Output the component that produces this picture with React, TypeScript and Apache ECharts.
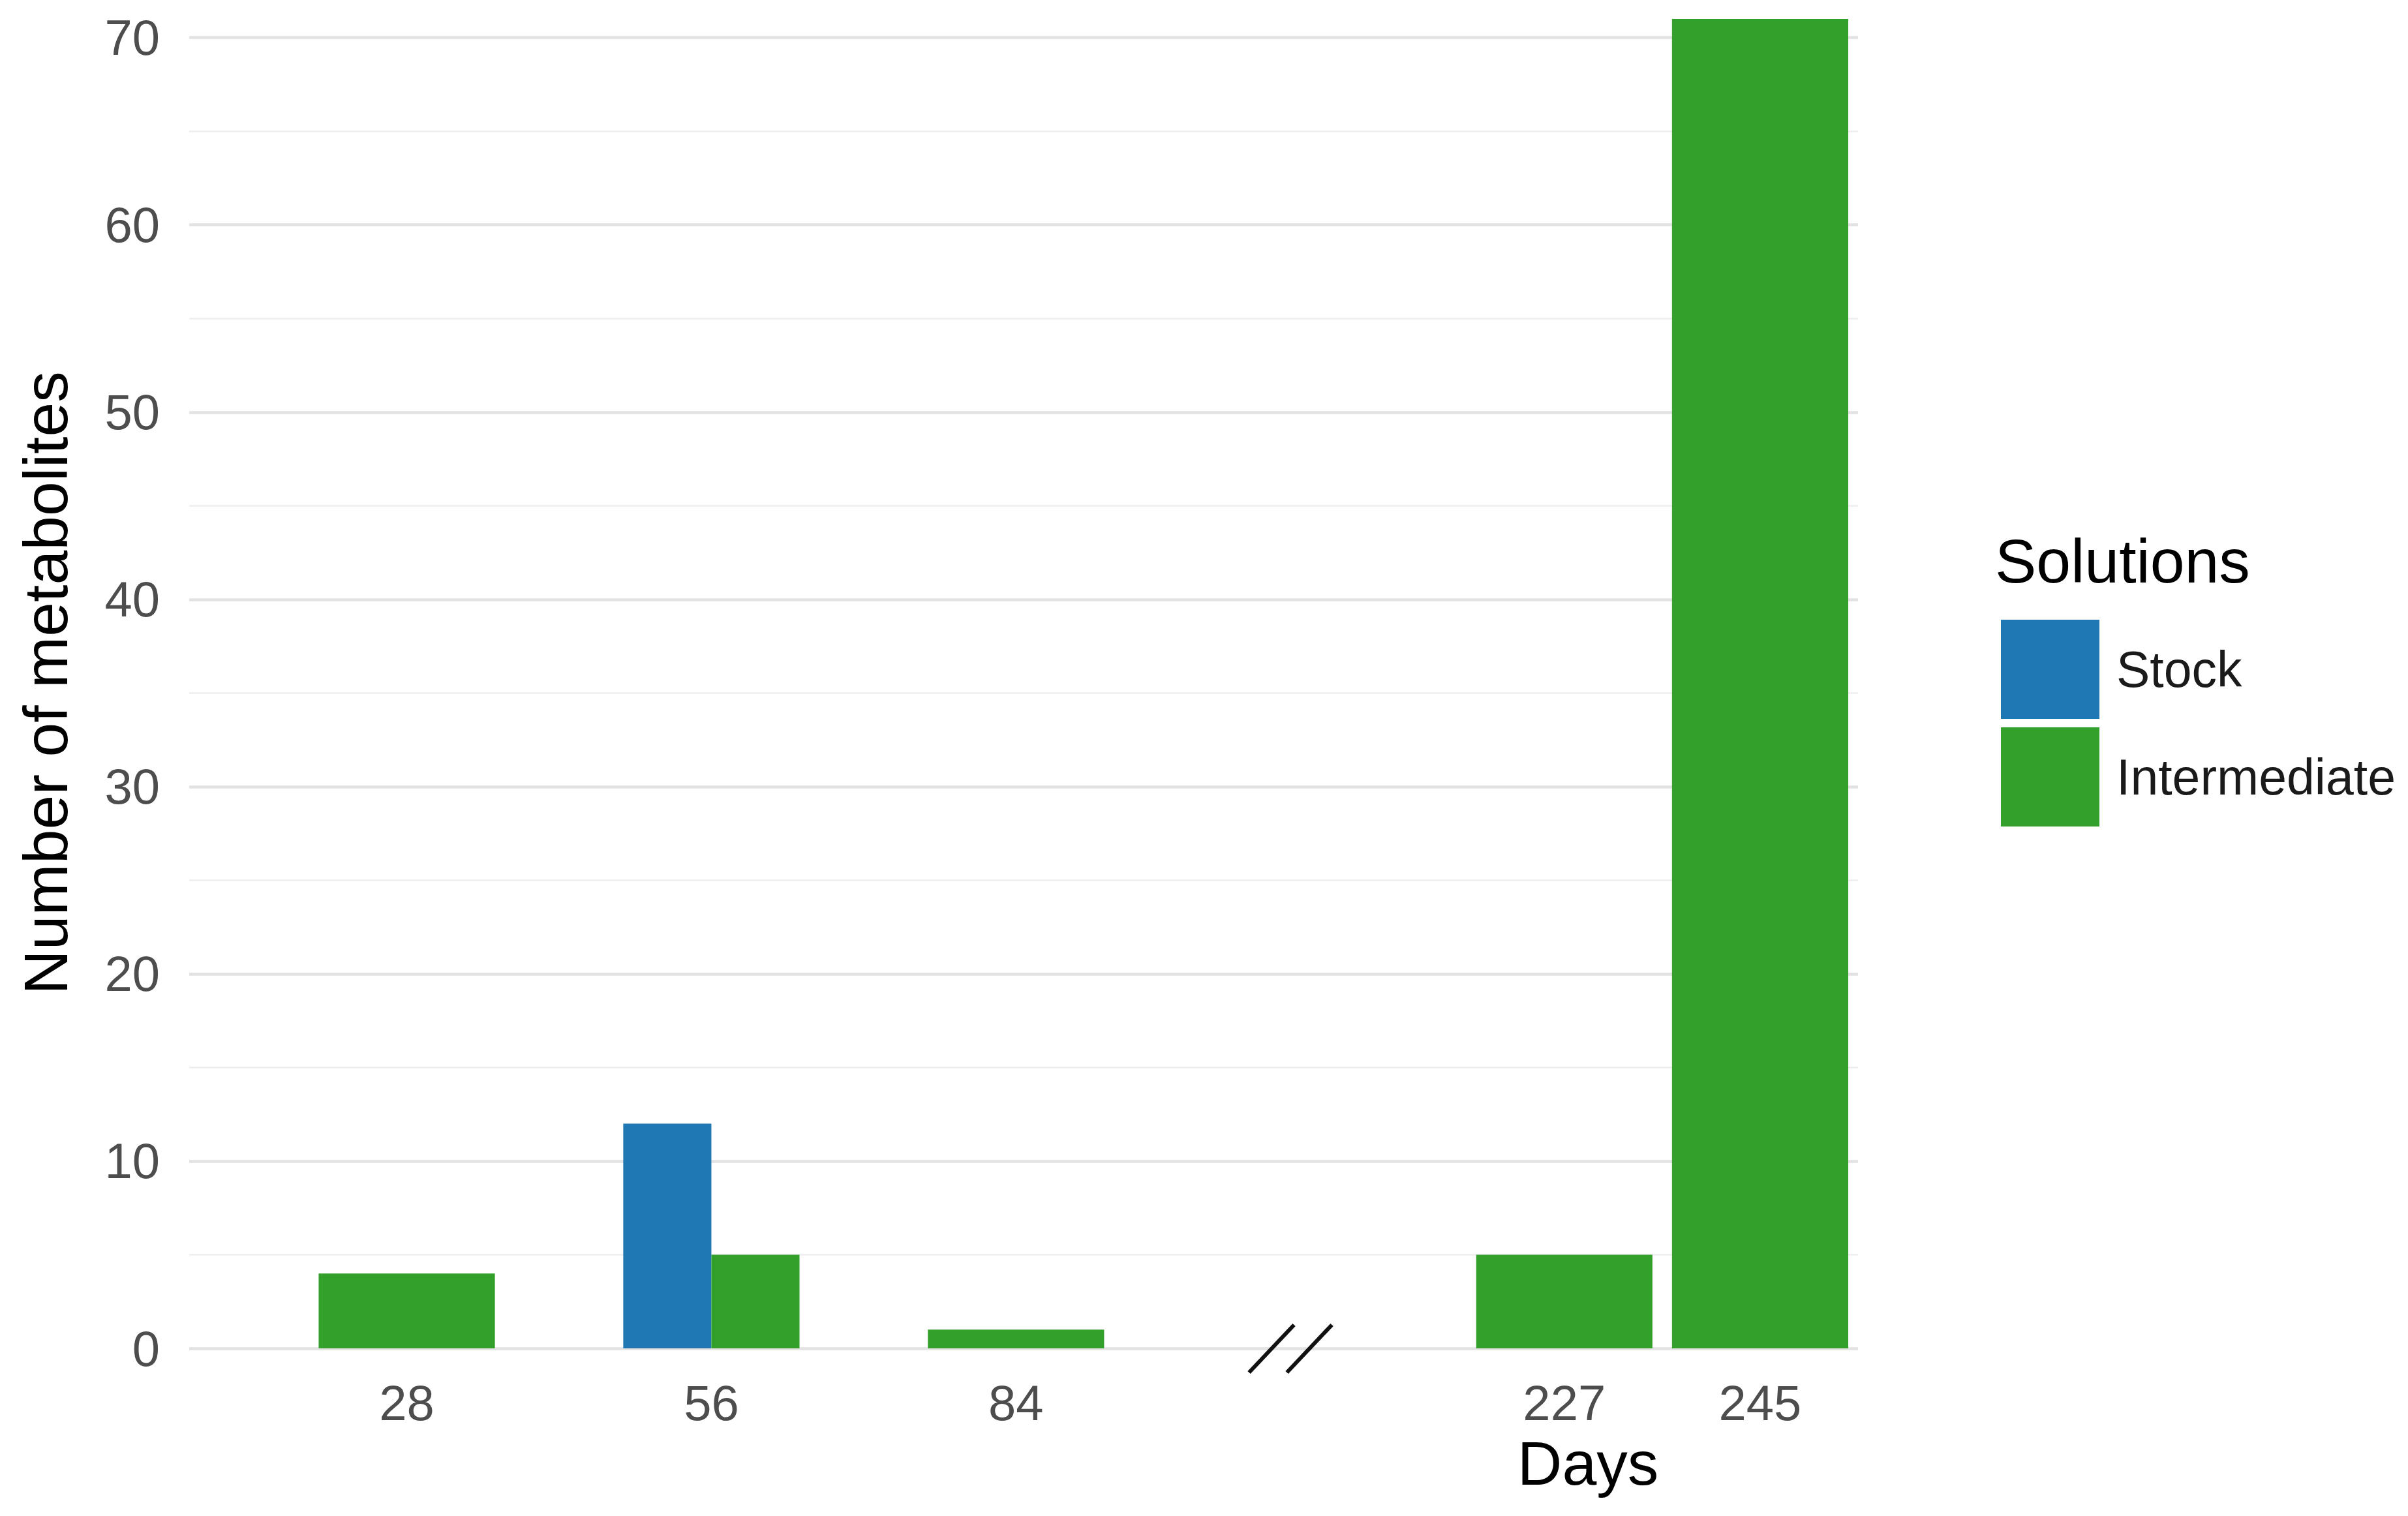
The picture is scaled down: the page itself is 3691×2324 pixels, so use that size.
import React, { useEffect, useRef } from 'react';
import * as echarts from 'echarts';

// ---- data ----
const days = [28, 56, 84, 227, 245];
const seriesNames = ['Stock', 'Intermediate'];
const stockValues: (number | null)[] = [null, 12, null, null, null];
const intermediateValues: (number | null)[] = [4, 5, 1, 5, 71];
const xTickValues = [28, 56, 84, 227, 245];
const yTickValues = [0, 10, 20, 30, 40, 50, 60, 70];
const yMax = 71;
const dayBreak = { start: 100, end: 211, gap: 18.4 };
const barWidthDays = 16.2; // 0.9 * smallest day spacing (18)

const COLORS = ['#1f78b4', '#33a02c'];
const FONT = 'Liberation Sans, Arial, Helvetica, sans-serif';

function buildBars(values: (number | null)[][]) {
  // position-dodge: bars present at a day share the full width
  const out: number[][][] = values.map(() => []);
  days.forEach((d, i) => {
    const present = values.map((v, s) => (v[i] != null ? s : -1)).filter((s) => s >= 0);
    const n = present.length;
    present.forEach((s, k) => {
      const x0 = d - barWidthDays / 2 + (k * barWidthDays) / n;
      const x1 = x0 + barWidthDays / n;
      out[s].push([d, values[s][i] as number, x0, x1]);
    });
  });
  return out;
}

export default function App() {
  const ref = useRef<HTMLDivElement>(null);
  useEffect(() => {
    if (!ref.current) return;
    const chart = echarts.init(ref.current, undefined, { renderer: 'svg' });
    const bars = buildBars([stockValues, intermediateValues]);
    const barRender = (params: any, api: any) => {
      const top = api.coord([api.value(2), api.value(1)]);
      const bottom = api.coord([api.value(3), 0]);
      return {
        type: 'rect',
        shape: { x: top[0], y: top[1], width: bottom[0] - top[0], height: bottom[1] - top[1] },
        style: { fill: api.visual('color') },
      };
    };
    const breakMid = (dayBreak.start + dayBreak.end) / 2;
    chart.setOption({
      animation: false,
      backgroundColor: '#ffffff',
      grid: { left: 290, right: 843, top: 29, bottom: 257, containLabel: false },
      xAxis: {
        type: 'value',
        min: 8,
        max: 254,
        breaks: [{ start: dayBreak.start, end: dayBreak.end, gap: dayBreak.gap }],
        breakArea: { show: false },
        axisLine: { show: false },
        axisTick: { show: false },
        splitLine: { show: false },
        axisLabel: {
          customValues: xTickValues,
          color: '#4d4d4d',
          fontSize: 76,
          fontFamily: FONT,
          margin: 45,
        },
      },
      yAxis: [
        {
          type: 'value',
          min: 0,
          max: yMax,
          interval: 5,
          axisLine: { show: false },
          axisTick: { show: false },
          axisLabel: { show: false },
          splitLine: {
            show: true,
            showMaxLine: false,
            lineStyle: { color: ['rgba(0,0,0,0)', '#eeeeee'], width: 2.5 },
          },
        },
        {
          type: 'value',
          position: 'left',
          min: 0,
          max: yMax,
          interval: 10,
          axisLine: { show: false },
          axisTick: { show: false },
          axisLabel: {
            color: '#4d4d4d',
            fontSize: 76,
            fontFamily: FONT,
            margin: 45,
            showMaxLabel: false,
            formatter: (v: number) => (yTickValues.includes(v) ? String(v) : ''),
          },
          splitLine: { show: true, showMaxLine: false, lineStyle: { color: '#e2e2e2', width: 4.5 } },
        },
      ],
      legend: {
        data: seriesNames,
        orient: 'vertical',
        left: 3062,
        top: 945,
        icon: 'rect',
        itemWidth: 151,
        itemHeight: 152,
        itemGap: 13,
        selectedMode: false,
        textStyle: { color: '#1a1a1a', fontSize: 77, fontFamily: FONT, padding: [0, 0, 0, 21] },
      },
      graphic: [
        {
          type: 'text',
          left: 3058,
          top: 860 - 48,
          style: { text: 'Solutions', fontSize: 95, fontFamily: FONT, fill: '#000000' },
        },
        {
          type: 'text',
          x: 2434,
          y: 2243,
          style: { text: 'Days', fontSize: 95, fontFamily: FONT, fill: '#000000', align: 'center', verticalAlign: 'middle' },
        },
        {
          type: 'text',
          x: 70,
          y: 1047,
          rotation: Math.PI / 2,
          style: {
            text: 'Number of metabolites',
            fontSize: 95,
            fontFamily: FONT,
            fill: '#000000',
            align: 'center',
            verticalAlign: 'middle',
          },
        },
      ],
      series: [
        {
          name: seriesNames[0],
          type: 'custom',
          yAxisIndex: 1,
          renderItem: barRender,
          itemStyle: { color: COLORS[0] },
          encode: { x: 0, y: 1 },
          data: bars[0],
        },
        {
          name: seriesNames[1],
          type: 'custom',
          yAxisIndex: 1,
          renderItem: barRender,
          itemStyle: { color: COLORS[1] },
          encode: { x: 0, y: 1 },
          data: bars[1],
        },
        {
          name: 'axis break',
          type: 'custom',
          yAxisIndex: 1,
          silent: true,
          encode: { x: 0, y: 1 },
          data: [[breakMid, 0]],
          renderItem: (params: any, api: any) => {
            const c = api.coord([api.value(0), api.value(1)]);
            const st = { stroke: '#111111', lineWidth: 6 };
            return {
              type: 'group',
              children: [
                { type: 'line', shape: { x1: c[0] - 63, y1: c[1] + 37, x2: c[0] + 6, y2: c[1] - 36 }, style: st },
                { type: 'line', shape: { x1: c[0] - 5, y1: c[1] + 37, x2: c[0] + 64, y2: c[1] - 36 }, style: st },
              ],
            };
          },
        },
      ],
    });
    return () => chart.dispose();
  }, []);
  return (
    <div
      ref={ref}
      style={{ position: 'fixed', left: 0, top: 0, width: 3691, height: 2324, background: '#fff' }}
    />
  );
}
